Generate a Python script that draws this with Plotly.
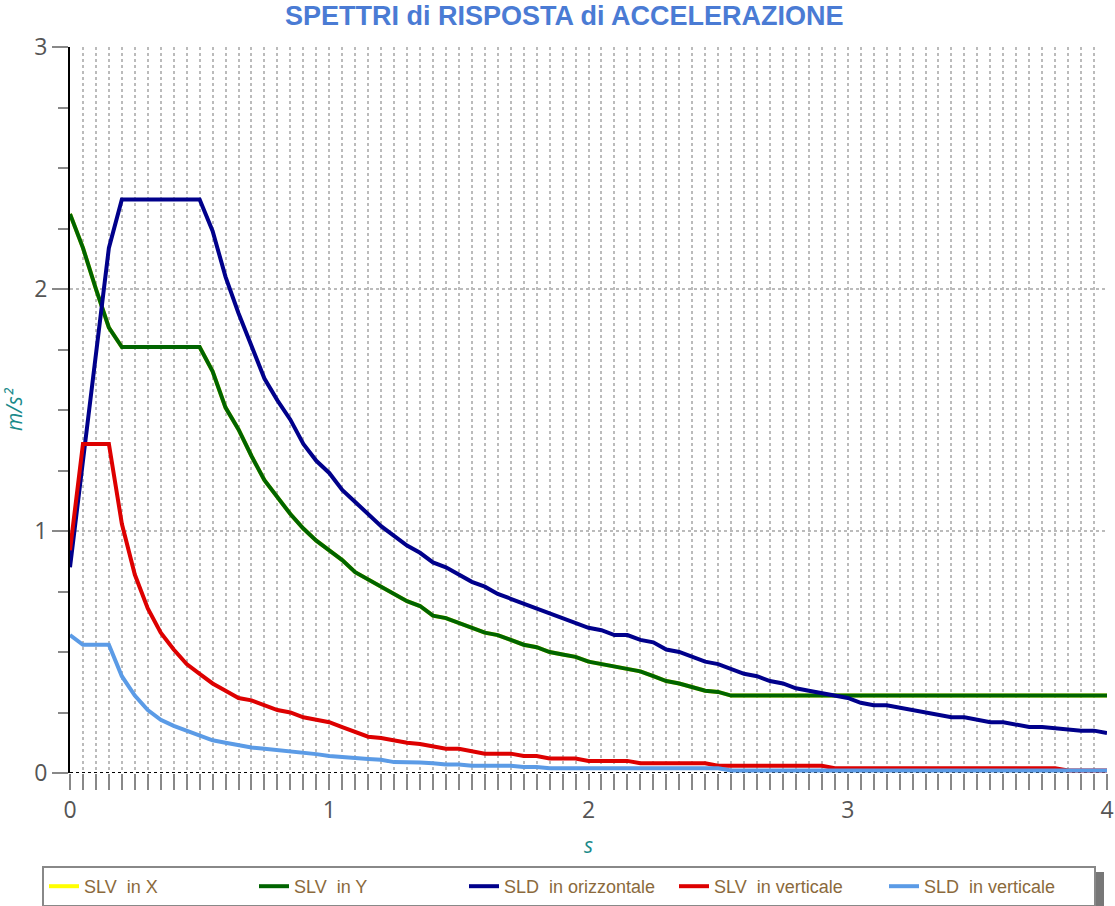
import plotly.graph_objects as go

periods = [0.0, 0.05, 0.1, 0.15, 0.2, 0.25, 0.3, 0.35, 0.4, 0.45,
           0.5, 0.55, 0.6, 0.65, 0.7, 0.75, 0.8, 0.85, 0.9, 0.95,
           1.0, 1.05, 1.1, 1.15, 1.2, 1.25, 1.3, 1.35, 1.4, 1.45,
           1.5, 1.55, 1.6, 1.65, 1.7, 1.75, 1.8, 1.85, 1.9, 1.95,
           2.0, 2.05, 2.1, 2.15, 2.2, 2.25, 2.3, 2.35, 2.4, 2.45,
           2.5, 2.55, 2.6, 2.65, 2.7, 2.75, 2.8, 2.85, 2.9, 2.95,
           3.0, 3.05, 3.1, 3.15, 3.2, 3.25, 3.3, 3.35, 3.4, 3.45,
           3.5, 3.55, 3.6, 3.65, 3.7, 3.75, 3.8, 3.85, 3.9, 3.95, 4.0]

slv_y = [2.31, 2.17, 2.00, 1.84, 1.76, 1.76, 1.76, 1.76, 1.76, 1.76,
         1.76, 1.66, 1.51, 1.42, 1.31, 1.21, 1.14, 1.07, 1.01, 0.96,
         0.92, 0.88, 0.83, 0.80, 0.77, 0.74, 0.71, 0.69, 0.65, 0.64,
         0.62, 0.60, 0.58, 0.57, 0.55, 0.53, 0.52, 0.50, 0.49, 0.48,
         0.46, 0.45, 0.44, 0.43, 0.42, 0.40, 0.38, 0.37, 0.355, 0.34,
         0.335, 0.32] + [0.32] * 29
slv_x = list(slv_y)

sld_oriz = [0.85, 1.29, 1.73, 2.17, 2.37, 2.37, 2.37, 2.37, 2.37, 2.37,
            2.37, 2.24, 2.05, 1.90, 1.77, 1.63, 1.54, 1.46, 1.36, 1.29,
            1.24, 1.17, 1.12, 1.07, 1.02, 0.98, 0.94, 0.91, 0.87, 0.85,
            0.82, 0.79, 0.77, 0.74, 0.72, 0.70, 0.68, 0.66, 0.64, 0.62,
            0.60, 0.59, 0.57, 0.57, 0.55, 0.54, 0.51, 0.50, 0.48, 0.46,
            0.45, 0.43, 0.41, 0.40, 0.38, 0.37, 0.35, 0.34, 0.33, 0.32,
            0.31, 0.29, 0.28, 0.28, 0.27, 0.26, 0.25, 0.24, 0.23, 0.23,
            0.22, 0.21, 0.21, 0.20, 0.19, 0.19, 0.185, 0.18, 0.175, 0.175, 0.165]

slv_vert = [0.92, 1.36, 1.36, 1.36, 1.03, 0.82, 0.68, 0.58, 0.51, 0.45,
            0.41, 0.37, 0.34, 0.31, 0.30, 0.28, 0.26, 0.25, 0.23, 0.22,
            0.21, 0.19, 0.17, 0.15, 0.145, 0.135, 0.125, 0.12, 0.11, 0.10,
            0.10, 0.09, 0.08, 0.08, 0.08, 0.07, 0.07, 0.06, 0.06, 0.06,
            0.05, 0.05, 0.05, 0.05, 0.04, 0.04, 0.04, 0.04, 0.04, 0.04,
            0.03] + [0.03] * 8 + [0.02] * 18 + [0.01] * 4

sld_vert = [0.57, 0.53, 0.53, 0.53, 0.40, 0.32, 0.26, 0.22, 0.195, 0.175,
            0.155, 0.135, 0.125, 0.115, 0.105, 0.10, 0.095, 0.09, 0.083, 0.078,
            0.07, 0.068, 0.062, 0.058, 0.055, 0.045, 0.045, 0.043, 0.04, 0.035,
            0.035, 0.03, 0.03, 0.03, 0.03, 0.025, 0.025] + [0.02] * 14 + [0.01] * 30

series_names = ["SLV  in X", "SLV  in Y", "SLD  in orizzontale", "SLV  in verticale", "SLD  in verticale"]
series_values = [slv_x, slv_y, sld_oriz, slv_vert, sld_vert]
series_colors = ["#FFFF00", "#006400", "#00008B", "#DD0000", "#5B9BE6"]

x_ticks = [0, 1, 2, 3, 4]
y_ticks = [0, 1, 2, 3]

fig = go.Figure()
for name, vals, col in zip(series_names, series_values, series_colors):
    fig.add_trace(go.Scatter(x=periods, y=vals, mode="lines", name=name,
                             line=dict(color=col, width=4)))

tick_font = dict(family="Open Sans, sans-serif", size=23, color="#555555")
axis_title_font = dict(family="Open Sans, sans-serif", size=21, color="#1A8A8A")

W, H = 1115, 906
L, R, T, B = 70, 8, 47, 133
PW, PH = W - L - R, H - T - B


def px_x(px):
    return (px - L) / PW


def px_y(py):
    return (H - B - py) / PH


fig.update_layout(
    width=W, height=H,
    margin=dict(l=L, r=R, t=T, b=B, autoexpand=False),
    paper_bgcolor="white", plot_bgcolor="white",
    title=dict(text="<b>SPETTRI di RISPOSTA di ACCELERAZIONE</b>",
               x=0.506, xanchor="center", y=1 - 6 / H, yanchor="top",
               font=dict(family="Liberation Sans, Arial, sans-serif", size=27, color="#4A7BD4")),
    xaxis=dict(range=[0, 4], tickvals=x_ticks, ticktext=[str(v) for v in x_ticks],
               showgrid=True, gridcolor="#BBBBBB", griddash="dot", gridwidth=2,
               ticks="outside", ticklen=16, tickwidth=2, tickcolor="#888888",
               tickfont=tick_font, zeroline=False, showline=False, automargin=False,
               minor=dict(dtick=0.05, showgrid=True, gridcolor="#BBBBBB", griddash="dot",
                          gridwidth=2, ticks="outside", ticklen=16, tickwidth=2,
                          tickcolor="#888888"),
               title=dict(text="<i>s</i>", font=axis_title_font, standoff=14)),
    yaxis=dict(range=[0, 3], tickvals=y_ticks, ticktext=[str(v) for v in y_ticks],
               showgrid=True, gridcolor="#BBBBBB", griddash="dot", gridwidth=2,
               ticks="outside", ticklen=16, tickwidth=2, tickcolor="#888888",
               tickfont=tick_font, zeroline=False, automargin=False,
               showline=True, linecolor="black", linewidth=2,
               minor=dict(dtick=0.25, showgrid=False, ticks="outside", ticklen=10,
                          tickwidth=2, tickcolor="#888888"),
               title=dict(text="<i>m/s²</i>", font=axis_title_font, standoff=8)),
    legend=dict(orientation="h",
                x=px_x(42), xanchor="left", y=px_y(866), yanchor="top",
                bgcolor="white", bordercolor="#888888", borderwidth=2,
                entrywidth=165, entrywidthmode="pixels",
                font=dict(family="Liberation Sans, Arial, sans-serif",
                          size=18, color="#8B6A3C"),
                itemclick=False, itemdoubleclick=False),
    showlegend=True,
)

# dotted black baseline along the x axis
fig.add_shape(type="line", xref="paper", yref="y", x0=0, x1=1, y0=0, y1=0,
              line=dict(color="black", width=2, dash="dot"), layer="below")
# legend drop shadow
fig.add_shape(type="rect", xref="paper", yref="paper",
              x0=px_x(50), x1=px_x(1104), y0=px_y(906), y1=px_y(872),
              fillcolor="#777777", line=dict(width=0), layer="above")

fig.write_html("out.html", config={"displayModeBar": False},
               post_script="document.body.style.margin='0';document.body.style.overflow='hidden';")
